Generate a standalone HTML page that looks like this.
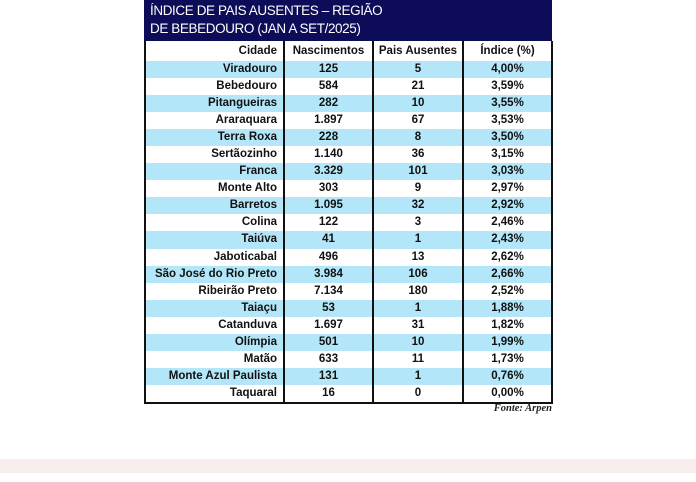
<!DOCTYPE html><html><head><style>
body{margin:0;width:696px;height:482px;background:#fff;position:relative;overflow:hidden;font-family:"Liberation Sans",Arial,sans-serif;}
#hd{position:absolute;left:144px;top:0;width:408px;height:41px;background:#0c0c58;color:#fff;font-size:13.5px;line-height:18px;padding:2px 0 0 6px;box-sizing:border-box;letter-spacing:-0.4px}
table{position:absolute;left:144px;top:41px;width:407px;border-collapse:collapse;table-layout:fixed;font-size:11.5px;font-weight:bold;color:#111;border:2px solid #111;border-top:none}
td{height:17.05px;padding:0;line-height:15px;border-left:2px solid #111;text-align:center}
td:first-child{text-align:right;padding-right:6px;border-left:none}
tr:nth-child(even){background:#b3e6f8}
tr:first-child td{height:20px}
#f{position:absolute;right:144px;top:403px;font:italic bold 10.5px "Liberation Serif",serif;color:#222}
#p{position:absolute;left:0;top:459px;width:696px;height:14px;background:#f8eded}
</style></head><body>
<div id="hd">ÍNDICE DE PAIS AUSENTES – REGIÃO<br>DE BEBEDOURO (JAN A SET/2025)</div>
<table>
<colgroup><col style="width:139px"><col style="width:89px"><col style="width:90px"><col style="width:89px"></colgroup>
<tr><td>Cidade</td><td>Nascimentos</td><td>Pais Ausentes</td><td>Índice (%)</td></tr>
<tr><td>Viradouro</td><td>125</td><td>5</td><td>4,00%</td></tr>
<tr><td>Bebedouro</td><td>584</td><td>21</td><td>3,59%</td></tr>
<tr><td>Pitangueiras</td><td>282</td><td>10</td><td>3,55%</td></tr>
<tr><td>Araraquara</td><td>1.897</td><td>67</td><td>3,53%</td></tr>
<tr><td>Terra Roxa</td><td>228</td><td>8</td><td>3,50%</td></tr>
<tr><td>Sertãozinho</td><td>1.140</td><td>36</td><td>3,15%</td></tr>
<tr><td>Franca</td><td>3.329</td><td>101</td><td>3,03%</td></tr>
<tr><td>Monte Alto</td><td>303</td><td>9</td><td>2,97%</td></tr>
<tr><td>Barretos</td><td>1.095</td><td>32</td><td>2,92%</td></tr>
<tr><td>Colina</td><td>122</td><td>3</td><td>2,46%</td></tr>
<tr><td>Taiúva</td><td>41</td><td>1</td><td>2,43%</td></tr>
<tr><td>Jaboticabal</td><td>496</td><td>13</td><td>2,62%</td></tr>
<tr><td>São José do Rio Preto</td><td>3.984</td><td>106</td><td>2,66%</td></tr>
<tr><td>Ribeirão Preto</td><td>7.134</td><td>180</td><td>2,52%</td></tr>
<tr><td>Taiaçu</td><td>53</td><td>1</td><td>1,88%</td></tr>
<tr><td>Catanduva</td><td>1.697</td><td>31</td><td>1,82%</td></tr>
<tr><td>Olímpia</td><td>501</td><td>10</td><td>1,99%</td></tr>
<tr><td>Matão</td><td>633</td><td>11</td><td>1,73%</td></tr>
<tr><td>Monte Azul Paulista</td><td>131</td><td>1</td><td>0,76%</td></tr>
<tr><td>Taquaral</td><td>16</td><td>0</td><td>0,00%</td></tr>
</table>
<div id="f">Fonte: Arpen</div>
<div id="p"></div>
</body></html>
